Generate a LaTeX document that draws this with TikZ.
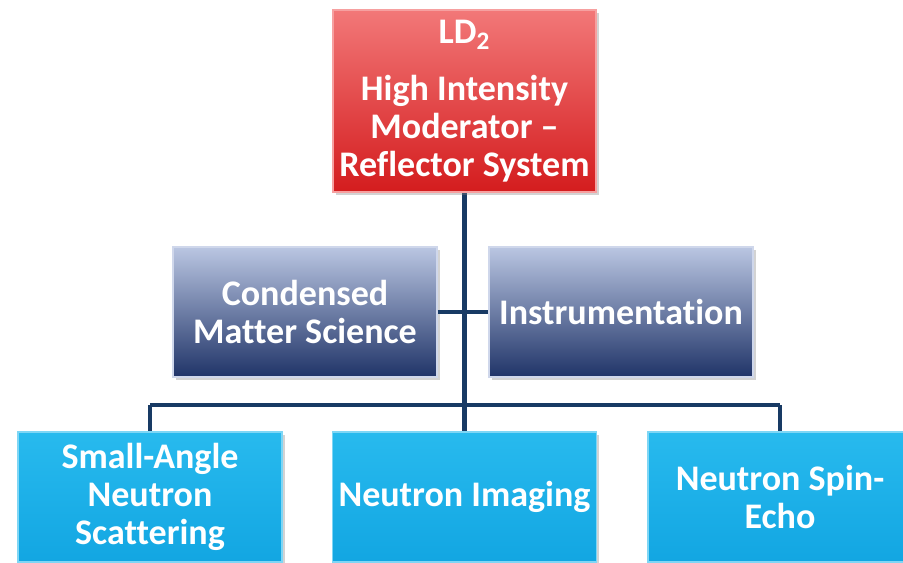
\documentclass[tikz,border=0pt]{standalone}
\usepackage{fontspec}
\setmainfont[Ligatures={CommonOff,TeX}]{Carlito}
\usepackage{tikz}
\usetikzlibrary{shadows}
\definecolor{navyline}{RGB}{24,58,100}
\definecolor{redtop}{RGB}{242,120,120}
\definecolor{redbot}{RGB}{212,28,30}
\definecolor{bluetop}{RGB}{186,198,226}
\definecolor{bluebot}{RGB}{32,52,104}
\definecolor{cyantop}{RGB}{40,186,238}
\definecolor{cyanbot}{RGB}{18,166,226}
\tikzstyle{boxbase} = [rectangle, align=center, text=white, font=\bfseries\fontsize{20.5}{21.8}\selectfont, drop shadow={shadow xshift=0.06cm, shadow yshift=-0.06cm, opacity=0.35}]
\tikzstyle{topbox} = [boxbase, minimum width=5.26cm, minimum height=3.64cm, top color=redtop, bottom color=redbot, draw=redtop!70!white, line width=0.6pt]
\tikzstyle{midbox} = [boxbase, minimum width=5.28cm, minimum height=2.6cm, top color=bluetop, bottom color=bluebot, draw=bluetop!70!white, line width=0.6pt]
\tikzstyle{lowbox} = [boxbase, minimum width=5.28cm, minimum height=2.6cm, top color=cyantop, bottom color=cyanbot, draw=cyantop!60!white, line width=0.6pt]
\tikzstyle{connect} = [line width=2.8pt, draw=navyline]

\begin{document}
\begin{tikzpicture}[node distance=2cm]
\useasboundingbox (-9.29,2.02) rectangle (8.77,-9.24);

% connectors first, boxes on top
\coordinate (ldpos) at (0,0);
\coordinate [below of=ldpos, yshift=-4.08cm] (bus);
\coordinate [left of=bus, xshift=-4.29cm] (busl);
\coordinate [right of=bus, xshift=4.31cm] (busr);

\node(sans)[lowbox, below of=busl, yshift=0.16cm]{Small-Angle\\Neutron\\Scattering};
\node(img)[lowbox, below of=bus, yshift=0.16cm]{Neutron Imaging};
\node(nse)[lowbox, below of=busr, yshift=0.16cm]{Neutron Spin-\\Echo};

\draw [connect] (ldpos) -- (bus);
\draw [connect] (busl) -- (busr);
\draw [connect] (busl) -- (sans.north);
\draw [connect] (bus) -- (img.north);
\draw [connect] (busr) -- (nse.north);

\node(cms)[midbox, below of=ldpos, xshift=-3.19cm, yshift=-2.22cm]{Condensed\\Matter Science};
\node(inst)[midbox, below of=ldpos, xshift=3.13cm, yshift=-2.22cm]{Instrumentation};
\draw [connect] (cms.east) -- (inst.west);

\node(ld)[topbox, text depth=0.1cm] at (ldpos){LD\textsubscript{2}\\[0.5em]High Intensity\\Moderator --\\Reflector System};
\end{tikzpicture}
\end{document}
